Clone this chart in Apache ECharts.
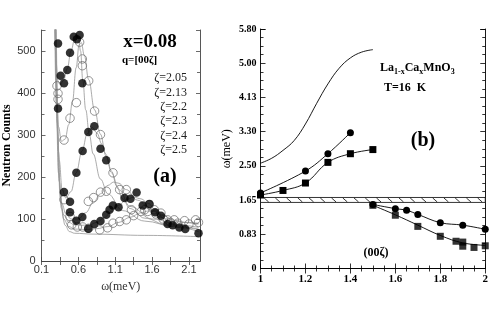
<!DOCTYPE html>
<html><head><meta charset="utf-8">
<script src="https://cdn.jsdelivr.net/npm/echarts/dist/echarts.min.js"></script>
<style>html,body{margin:0;padding:0;background:#fff}#c{width:491px;height:315px}</style>
</head><body><div id="c"></div>
<script>
// ---------- Panel (a) data: neutron counts vs omega (meV) ----------
const zetaLabels = ['ζ=2.05','ζ=2.13','ζ=2.2','ζ=2.3','ζ=2.4','ζ=2.5'];
const pts205 = [[0.324,518],[0.36,441],[0.405,423],[0.45,455],[0.487,496],[0.537,534],[0.58,528],[0.617,538],[0.654,423]];
const pts213 = [[0.31,417],[0.324,399],[0.324,385],[0.405,288],[0.487,340],[0.573,377],[0.617,521],[0.654,481],[0.654,465],[0.74,429],[0.82,357],[0.9,301]];
const pts22  = [[0.324,363],[0.405,164],[0.487,141],[0.573,210],[0.658,262],[0.735,307],[0.816,321],[0.9,267],[0.978,240]];
const pts23  = [[0.405,146],[0.487,106],[0.735,142],[0.807,151],[0.9,164],[0.98,166],[1.07,210],[1.16,170],[1.25,170],[1.32,122],[1.5,122],[1.56,134],[1.63,122],[1.72,114],[1.81,98],[1.9,98],[2.04,96],[2.19,98]];
const pts24  = [[0.487,116],[0.573,96],[0.654,105],[0.735,77],[0.816,88],[0.9,95],[0.978,110],[1.023,122],[1.068,132],[1.145,128],[1.226,150],[1.307,148],[1.39,163],[1.473,132],[1.564,136],[1.64,116],[1.72,108],[1.81,88],[1.88,85],[1.97,80],[2.05,76],[2.23,66]];
const pts25  = [[0.51,86],[0.586,81],[0.66,81],[0.74,78],[0.89,74],[0.996,79],[1.07,90],[1.16,94],[1.25,98],[1.35,108],[1.45,118],[1.54,118],[1.65,112],[1.75,100],[1.85,92],[1.95,90],[2.1,88],[2.23,92]];
// fitted curves
const fit205 = [[0.28,560],[0.3,470],[0.32,430],[0.35,420],[0.4,430],[0.45,458],[0.5,500],[0.55,528],[0.6,534],[0.63,500],[0.66,430],[0.7,360],[0.75,300],[0.8,255],[0.9,195],[1.0,160],[1.2,120],[1.5,95],[1.9,82],[2.23,75]];
const fit213 = [[0.285,560],[0.3,440],[0.33,320],[0.37,285],[0.42,290],[0.47,325],[0.52,380],[0.57,460],[0.61,515],[0.64,520],[0.68,490],[0.74,432],[0.82,360],[0.9,302],[0.97,255],[1.05,210],[1.15,170],[1.3,130],[1.6,100],[2.0,85],[2.23,80]];
const fit22  = [[0.29,560],[0.31,380],[0.34,240],[0.38,170],[0.43,150],[0.5,165],[0.57,210],[0.65,262],[0.72,303],[0.79,318],[0.85,305],[0.92,278],[0.98,248],[1.05,214],[1.12,178],[1.2,148],[1.3,125],[1.5,102],[1.8,86],[2.23,76]];
const fit23  = [[0.29,560],[0.31,330],[0.34,190],[0.38,135],[0.43,112],[0.5,100],[0.6,100],[0.7,115],[0.8,138],[0.9,160],[1.0,180],[1.08,188],[1.15,185],[1.25,170],[1.4,145],[1.6,120],[1.8,100],[2.0,92],[2.23,88]];
const fit24  = [[0.295,560],[0.32,300],[0.35,160],[0.4,110],[0.47,92],[0.55,86],[0.65,85],[0.75,86],[0.85,92],[0.95,103],[1.05,118],[1.15,133],[1.25,146],[1.35,152],[1.45,148],[1.55,137],[1.65,120],[1.75,102],[1.85,88],[2.0,79],[2.23,70]];
const fit25  = [[0.3,560],[0.33,260],[0.36,140],[0.4,100],[0.47,82],[0.55,76],[0.7,75],[0.85,77],[1.0,82],[1.15,92],[1.3,104],[1.45,115],[1.55,119],[1.65,117],[1.75,108],[1.9,97],[2.05,92],[2.23,90]];
const fitBg  = [[0.28,560],[0.3,370],[0.33,210],[0.37,125],[0.42,85],[0.48,70],[0.55,66],[0.8,64],[1.5,61],[2.23,58]];
const xTicksA = [0.1,0.35,0.6,0.85,1.1,1.35,1.6,1.85,2.1];
const xLabelsA = [0.1,0.6,1.1,1.6,2.1];

// ---------- Panel (b) data: dispersion ----------
const bTheory = [[1.0,2.55],[1.05,2.67],[1.1,2.86],[1.15,3.1],[1.2,3.5],[1.25,4.0],[1.3,4.47],[1.35,4.85],[1.4,5.1],[1.45,5.24],[1.5,5.3]];
const circUp  = [[1.0,1.83],[1.2,2.36],[1.3,2.78],[1.4,3.29]];
const circLow = [[1.5,1.55],[1.6,1.45],[1.65,1.41],[1.7,1.31],[1.8,1.11],[1.9,1.05],[2.0,0.95]];
const sqUp    = [[1.0,1.78],[1.1,1.89],[1.2,2.07],[1.3,2.57],[1.4,2.78],[1.5,2.88]];
const sqLow   = [[1.5,1.53],[1.6,1.29],[1.7,1.02],[1.8,0.78],[1.87,0.66],[1.9,0.64],[1.9,0.54],[1.95,0.51],[2.0,0.55]];
const sqLowFit = [[1.5,1.53],[1.6,1.3],[1.7,1.05],[1.8,0.8],[1.9,0.62],[2.0,0.56]];
const band = [1.0, 2.0, 1.6, 1.72];
const yLabelsB = ['0','0.83','1.65','2.50','3.30','4.13','5.00','5.80'];

const chart = echarts.init(document.getElementById('c'), null, {renderer:'canvas'});
const SANS = '"Liberation Sans", Arial, sans-serif';
const SERIF = '"Liberation Serif", "Times New Roman", serif';
const axA = '#444';

function fitLine(d){ return {type:'line', xAxisIndex:0, yAxisIndex:0, data:d, smooth:0.4, smoothMonotone:'x', showSymbol:false, symbol:'none', silent:true, lineStyle:{color:'#959595', width:0.8}, z:2}; }
function ptsA(d, filled){ return {type:'scatter', xAxisIndex:0, yAxisIndex:0, data:d, symbol:'circle', symbolSize:8.5,
  itemStyle: filled ? {color:'#000'} : {color:'rgba(0,0,0,0)', borderColor:'#6a6a6a', borderWidth:0.9}, z:3}; }

const hatch = {
  type:'custom', xAxisIndex:2, yAxisIndex:2, data:[band], silent:true, z:2,
  renderItem: function(params, api){
    const x0 = api.value(0), x1 = api.value(1), yl = api.value(2), yh = api.value(3);
    const p0 = api.coord([x0, yh]), p1 = api.coord([x1, yl]);
    const children = [{type:'rect', shape:{x:p0[0], y:p0[1], width:p1[0]-p0[0], height:p1[1]-p0[1]},
      style:{fill:'#fff', stroke:'#000', lineWidth:0.8}}];
    for (let x = x0 + 0.025; x < x1; x += 0.05) {
      const a = api.coord([x, yh]);
      children.push({type:'line', shape:{x1:a[0]-2, y1:p0[1]+0.5, x2:a[0]+2.5, y2:p1[1]-0.5}, style:{stroke:'#000', lineWidth:0.8}});
    }
    return {type:'group', children};
  }
};

const tickInside = (len, color) => ({show:true, inside:true, length:len, lineStyle:{color, width:0.8}});

chart.setOption({
  animation:false,
  backgroundColor:'#fff',
  grid:[
    {left:41.5, top:30, width:158.5, height:231, containLabel:false},
    {left:260.5, top:29, width:225.5, height:239.5, containLabel:false}
  ],
  xAxis:[
    {gridIndex:0, type:'value', min:0.1, max:2.25, position:'bottom',
     axisLine:{lineStyle:{color:axA, width:0.9}},
     axisTick:Object.assign(tickInside(4, axA), {customValues:xTicksA}),
     axisLabel:{customValues:xLabelsA, formatter:v=>v.toFixed(1), fontFamily:SANS, fontSize:11, color:'#333', margin:3},
     splitLine:{show:false},
     name:'ω(meV)', nameLocation:'middle', nameGap:20, nameTextStyle:{fontFamily:SERIF, fontSize:12, color:'#333'}},
    {gridIndex:0, type:'value', min:0.1, max:2.25, position:'top',
     axisLine:{lineStyle:{color:axA, width:0.9}},
     axisTick:Object.assign(tickInside(4, axA), {customValues:xTicksA}),
     axisLabel:{show:false}, splitLine:{show:false}},
    {gridIndex:1, type:'value', min:1, max:2, interval:0.2, position:'bottom',
     axisLine:{lineStyle:{color:'#000', width:0.9}},
     axisTick:tickInside(5, '#000'),
     minorTick:{show:true, splitNumber:4, length:3, lineStyle:{color:'#000', width:0.8}},
     axisLabel:{formatter:v=>String(Math.round(v*10)/10), fontFamily:SERIF, fontWeight:'bold', fontSize:11, color:'#000', margin:5},
     splitLine:{show:false}, minorSplitLine:{show:false}},
    {gridIndex:1, type:'value', min:1, max:2, interval:0.2, position:'top',
     axisLine:{lineStyle:{color:'#000', width:0.9}},
     axisTick:tickInside(5, '#000'),
     minorTick:{show:true, splitNumber:4, length:3, lineStyle:{color:'#000', width:0.8}},
     axisLabel:{show:false}, splitLine:{show:false}}
  ],
  yAxis:[
    {gridIndex:0, type:'value', min:0, max:550, interval:100, position:'left',
     axisLine:{show:true, lineStyle:{color:axA, width:0.9}},
     axisTick:tickInside(4, axA),
     minorTick:{show:true, splitNumber:2, length:3, lineStyle:{color:axA, width:0.8}},
     axisLabel:{showMaxLabel:false, formatter:v=>(v%100===0?String(v):''), fontFamily:SANS, fontSize:11, color:'#333', margin:6},
     splitLine:{show:false}, minorSplitLine:{show:false},
     name:'Neutron Counts', nameLocation:'middle', nameGap:25, nameTextStyle:{fontFamily:SERIF, fontWeight:'bold', fontSize:12, color:'#000'}},
    {gridIndex:0, type:'value', min:0, max:550, interval:100, position:'right',
     axisLine:{show:true, lineStyle:{color:axA, width:0.9}},
     axisTick:tickInside(4, axA),
     minorTick:{show:true, splitNumber:2, length:3, lineStyle:{color:axA, width:0.8}},
     axisLabel:{show:false}, splitLine:{show:false}},
    {gridIndex:1, type:'value', min:0, max:5.8, interval:5.8/7, position:'left',
     axisLine:{show:true, lineStyle:{color:'#000', width:0.9}},
     axisTick:tickInside(5, '#000'),
     minorTick:{show:true, splitNumber:4, length:3, lineStyle:{color:'#000', width:0.8}},
     axisLabel:{formatter:v=>yLabelsB[Math.round(v/(5.8/7))], fontFamily:SERIF, fontWeight:'bold', fontSize:10, color:'#000', margin:4},
     splitLine:{show:false}, minorSplitLine:{show:false},
     name:'ω(meV)', nameLocation:'middle', nameGap:28, nameTextStyle:{fontFamily:SERIF, fontSize:12, color:'#000'}},
    {gridIndex:1, type:'value', min:0, max:5.8, interval:5.8/7, position:'right',
     axisLine:{show:true, lineStyle:{color:'#000', width:0.9}},
     axisTick:tickInside(5, '#000'),
     minorTick:{show:true, splitNumber:4, length:3, lineStyle:{color:'#000', width:0.8}},
     axisLabel:{show:false}, splitLine:{show:false}}
  ],
  series:[
    fitLine(fitBg), fitLine(fit205), fitLine(fit213), fitLine(fit22), fitLine(fit23), fitLine(fit24), fitLine(fit25),
    ptsA(pts25,false), ptsA(pts23,false), ptsA(pts213,false),
    ptsA(pts24,true), ptsA(pts22,true), ptsA(pts205,true),
    hatch,
    {type:'line', xAxisIndex:2, yAxisIndex:2, data:bTheory, smooth:0.4, showSymbol:false, lineStyle:{color:'#000', width:0.9}, z:3},
    {type:'line', xAxisIndex:2, yAxisIndex:2, data:circUp, smooth:0.4, symbol:'circle', symbolSize:7, itemStyle:{color:'#000'}, lineStyle:{color:'#000', width:0.9}, z:4},
    {type:'line', xAxisIndex:2, yAxisIndex:2, data:circLow, smooth:0.4, symbol:'circle', symbolSize:7, itemStyle:{color:'#000'}, lineStyle:{color:'#000', width:0.9}, z:4},
    {type:'line', xAxisIndex:2, yAxisIndex:2, data:sqUp, smooth:0.4, symbol:'rect', symbolSize:7, itemStyle:{color:'#000'}, lineStyle:{color:'#000', width:0.9}, z:4},
    {type:'line', xAxisIndex:2, yAxisIndex:2, data:sqLowFit, smooth:0.4, showSymbol:false, lineStyle:{color:'#000', width:0.9}, z:3},
    {type:'scatter', xAxisIndex:2, yAxisIndex:2, data:sqLow, symbol:'rect', symbolSize:7, itemStyle:{color:'#000'}, z:4}
  ],
  graphic:[
    {type:'text', style:{text:'x=0.08', x:150, y:42, font:'bold 19px '+SERIF, fill:'#000', textAlign:'center', textVerticalAlign:'middle'}},
    {type:'text', style:{text:'q=[00ζ]', x:122, y:60, font:'bold 11px '+SERIF, fill:'#000', textAlign:'left', textVerticalAlign:'middle'}},
    ...zetaLabels.map((t,i)=>({type:'text', style:{text:t, x:187, y:78+i*14.4, font:'12px '+SERIF, fill:'#222', textAlign:'right', textVerticalAlign:'middle'}})),
    {type:'text', style:{text:'(a)', x:165, y:177, font:'bold 20px '+SERIF, fill:'#000', textAlign:'center', textVerticalAlign:'middle'}},
    {type:'text', style:{text:'{m|La}{s|1-x}{m|Ca}{s|x}{m|MnO}{s|3}', x:380, y:68, textVerticalAlign:'middle',
      rich:{m:{font:'bold 12px '+SERIF, fill:'#000', lineHeight:14}, s:{font:'bold 8px '+SERIF, fill:'#000', lineHeight:14, padding:[7,0,0,0]}}}},
    {type:'text', style:{text:'T=16  K', x:384, y:88, font:'bold 12px '+SERIF, fill:'#000', textAlign:'left', textVerticalAlign:'middle'}},
    {type:'text', style:{text:'(b)', x:423, y:141, font:'bold 20px '+SERIF, fill:'#000', textAlign:'center', textVerticalAlign:'middle'}},
    {type:'text', style:{text:'(00ζ)', x:376, y:253, font:'bold 12px '+SERIF, fill:'#000', textAlign:'center', textVerticalAlign:'middle'}}
  ]
});
</script></body></html>
